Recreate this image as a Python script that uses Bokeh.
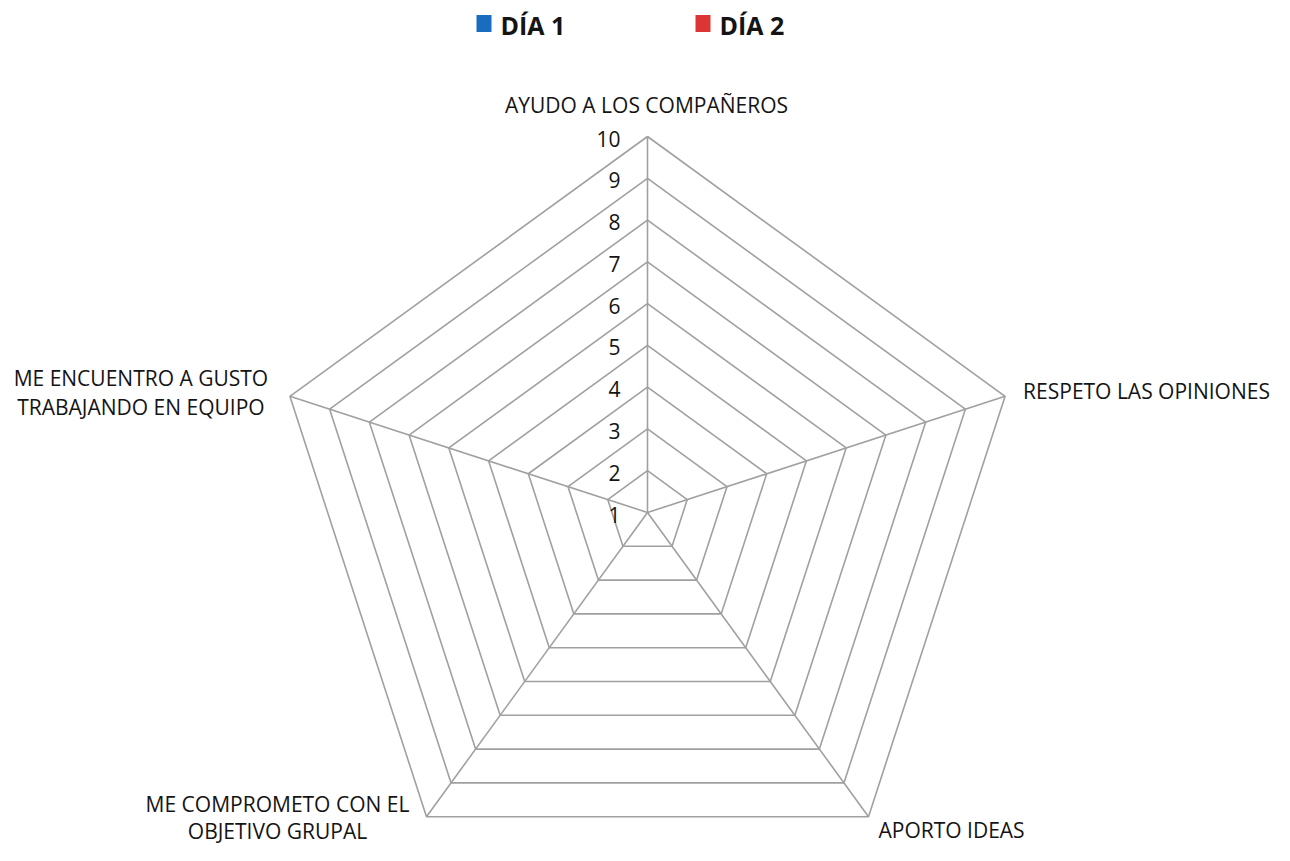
import numpy as np
from bokeh.plotting import figure
from bokeh.models import Range1d
from bokeh.core.properties import value
from bokeh.embed import file_html
from bokeh.resources import INLINE

# ---- data ----
categories = ["AYUDO A LOS COMPAÑEROS", "RESPETO LAS OPINIONES", "APORTO IDEAS",
              "ME COMPROMETO CON EL\nOBJETIVO GRUPAL", "ME ENCUENTRO A GUSTO\nTRABAJANDO EN EQUIPO"]
series_names = ["DÍA 1", "DÍA 2"]
dia1 = [1, 1, 1, 1, 1]
dia2 = [1, 1, 1, 1, 1]
tick_values = [1, 2, 3, 4, 5, 6, 7, 8, 9, 10]
tick_labels = ["1", "2", "3", "4", "5", "6", "7", "8", "9", "10"]
vmin, vmax = 1, 10

# ---- layout ----
W, H = 1274, 845
cx, cy = 647, 512
R = 376
FONT = "Open Sans"
FS = "21px"
grid_color = "#a0a0a0"
text_color = "#141414"
colors = ["#1a6cc0", "#dc3535"]

p = figure(width=W, height=H, output_backend="svg", toolbar_location=None,
           x_range=Range1d(0, W), y_range=Range1d(H, 0), min_border=0)
p.axis.visible = False
p.grid.visible = False
p.outline_line_color = None
p.background_fill_color = "white"

n = len(categories)
ang = np.pi / 2 - np.arange(n) * 2 * np.pi / n

def rad(v):
    return (np.asarray(v, dtype=float) - vmin) / (vmax - vmin) * R

def pts(vals):
    r = rad(vals)
    return cx + r * np.cos(ang), cy - r * np.sin(ang)

# rings
for t in tick_values[1:]:
    xs, ys = pts([t] * n)
    p.line(list(xs) + [xs[0]], list(ys) + [ys[0]], line_color=grid_color, line_width=1.6)
# spokes
xo, yo = pts([vmax] * n)
for i in range(n):
    p.line([cx, xo[i]], [cy, yo[i]], line_color=grid_color, line_width=1.6)

# series (all values at minimum -> collapse to centre)
for vals, c in zip([dia1, dia2], colors):
    xs, ys = pts(vals)
    p.line(list(xs) + [xs[0]], list(ys) + [ys[0]], line_color=c, line_width=2.5,
           line_cap="butt")

# tick labels
tr = rad(tick_values)
p.text(x=[cx - 27] * len(tick_values), y=list(cy - tr + 2), text=tick_labels,
       text_align="right", text_baseline="middle", text_font=value(FONT),
       text_font_size=FS, text_color=text_color)

# category labels: (dx, dy of first line, align, line spacing)
lab_cfg = [
    (-1, -32, "center", 0),
    (18, -5, "left", 0),
    (10, 13, "left", 0),
    (-149, -13, "center", 27),
    (-149, -18, "center", 28.5),
]
for i, (dx, dy, al, sp) in enumerate(lab_cfg):
    lines = categories[i].split("\n")
    for j, ln in enumerate(lines):
        p.text(x=[xo[i] + dx], y=[yo[i] + dy + j * sp], text=[ln],
               text_align=al, text_baseline="middle",
               text_font=value(FONT), text_font_size=FS, text_color=text_color)

# legend
leg_x = [476, 695]
for k, (nm, c) in enumerate(zip(series_names, colors)):
    p.rect(x=[leg_x[k] + 7.5], y=[23], width=15, height=17, fill_color=c, line_color=None)
    p.text(x=[leg_x[k] + 24], y=[24], text=[nm], text_align="left", text_baseline="middle",
           text_font=value(FONT), text_font_size="25px", text_font_style="bold",
           text_color=text_color)

open("out.html", "w").write(file_html(p, INLINE))
